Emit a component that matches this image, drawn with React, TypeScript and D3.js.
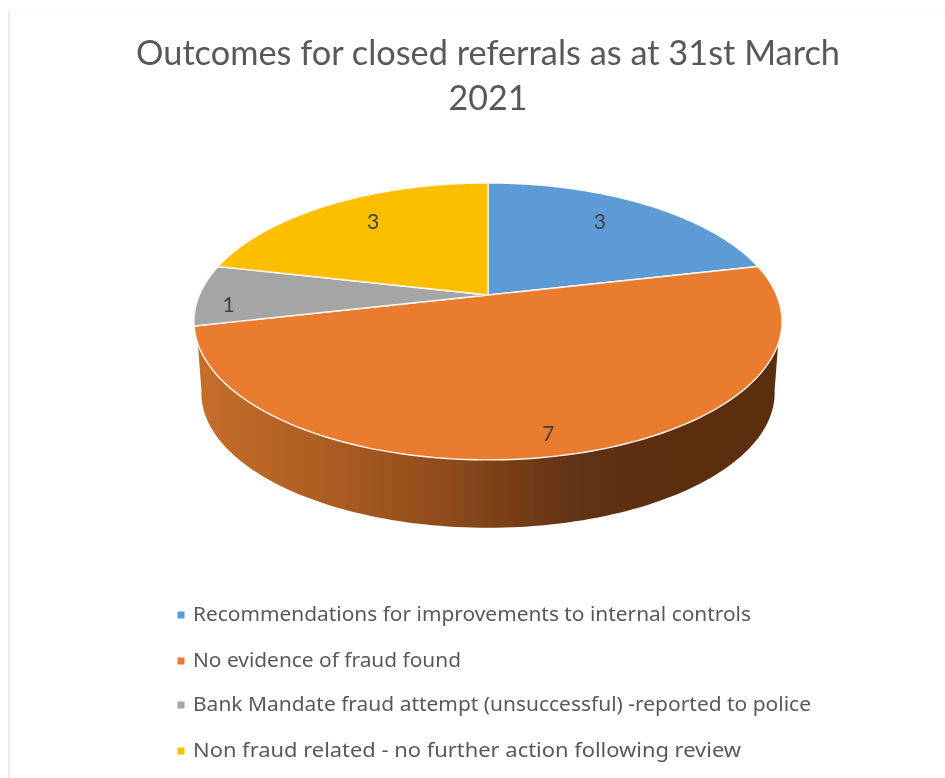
import React from "react";
import * as d3 from "d3";

const titleLines = ["Outcomes for closed referrals as at 31st March", "2021"];
const categories = [
  "Recommendations for improvements to internal controls",
  "No evidence of fraud found",
  "Bank Mandate fraud attempt (unsuccessful) -reported to police",
  "Non fraud related - no further action following review",
];
const values = [3, 7, 1, 3];
const colors = ["#5b9bd5", "#e97b2e", "#a5a5a5", "#fcbf00"];

const WIDTH = 945;
const HEIGHT = 778;
const cx = 488;
const cy = 295;
const rxBase = 288.6;
const ryBase = 133.4;
const persp = -0.191;
const wallDrop = 72;
const wallScale = 0.975;

// label placement per slice (matches where the source put them)
const labelRadius = [0.757, 0.886, 0.89, 0.763];
const labelNudgeDeg = [-3.6, 1.5, -4.4, 2.9];
const legendWidths = [558, 268, 618, 548];
const legendY = [615, 661, 705, 751];

const project = (angle: number, r = 1, scale = 1, drop = 0): [number, number] => {
  const X = Math.sin(angle) * r;
  const Y = -Math.cos(angle) * r;
  const d = 1 + persp * Y;
  return [cx + (X * rxBase * scale) / d, cy + drop + (Y * ryBase * scale) / d];
};

const line = d3.line<[number, number]>().x((d) => d[0]).y((d) => d[1]);
const rad = (deg: number) => (deg * Math.PI) / 180;

const sample = (a0: number, a1: number, n = 120, scale = 1, drop = 0) =>
  d3.range(n + 1).map((i) => project(a0 + ((a1 - a0) * i) / n, 1, scale, drop));

export default function App() {
  const arcs = d3.pie<number>().sort(null)(values);
  const wallPts = [
    ...sample(rad(110), rad(250)),
    ...sample(rad(260), rad(100), 120, wallScale, wallDrop),
  ];
  return (
    <svg
      width={WIDTH}
      height={HEIGHT}
      viewBox={`0 0 ${WIDTH} ${HEIGHT}`}
      style={{ position: "absolute", left: 0, top: 0, background: "#fff" }}
    >
      <defs>
        <linearGradient id="wall" gradientUnits="userSpaceOnUse" x1={194} x2={782} y1={0} y2={0}>
          <stop offset="0" stopColor="#c66f2b" />
          <stop offset="0.18" stopColor="#b26024" />
          <stop offset="0.39" stopColor="#954f1e" />
          <stop offset="0.5" stopColor="#7e4319" />
          <stop offset="0.66" stopColor="#5f3012" />
          <stop offset="1" stopColor="#5a2d10" />
        </linearGradient>
        <filter id="soft" filterUnits="userSpaceOnUse" x={0} y={0} width={WIDTH} height={HEIGHT}>
          <feGaussianBlur stdDeviation="0.7" />
        </filter>
      </defs>
      <g filter="url(#soft)">
        <line x1={9} y1={11} x2={9} y2={HEIGHT} stroke="#e6e6e6" strokeWidth={1.5} />
        <line x1={9} y1={11} x2={WIDTH} y2={11} stroke="#f6f6f6" strokeWidth={1} />
        <g fontFamily="Lato, 'Open Sans', sans-serif" fontSize={34} fill="#595959" textAnchor="middle">
          {titleLines.map((t, i) => (
            <text
              key={t}
              x={488}
              y={65 + i * 45}
              textLength={i === 0 ? 704 : undefined}
              lengthAdjust="spacingAndGlyphs"
            >
              {t}
            </text>
          ))}
        </g>
        <path d={line(wallPts) + "Z"} fill="url(#wall)" />
        {arcs.map((a, i) => {
          const rim = sample(a.startAngle, a.endAngle);
          const apex = project(0, 0);
          return (
            <path
              key={categories[i]}
              d={line([apex, ...rim]) + "Z"}
              fill={colors[i]}
              stroke="#fdf6ef"
              strokeWidth={1.4}
              strokeLinejoin="round"
            />
          );
        })}
        {arcs.map((a, i) => {
          const mid = (a.startAngle + a.endAngle) / 2 + rad(labelNudgeDeg[i]);
          const [x, y] = project(mid, labelRadius[i]);
          return (
            <text
              key={i}
              x={x}
              y={y}
              dy="0.36em"
              textAnchor="middle"
              fontFamily="Lato, sans-serif"
              fontSize={21}
              fill="#404040"
            >
              {values[i]}
            </text>
          );
        })}
        {categories.map((c, i) => (
          <g key={c}>
            <rect x={177.5} y={legendY[i] - 3.5} width={7} height={7} fill={colors[i]} />
            <text
              x={193}
              y={legendY[i] + 6}
              fontFamily="'Noto Sans', 'Open Sans', sans-serif"
              fontSize={20.5}
              fill="#595959"
              textLength={legendWidths[i]}
              lengthAdjust="spacingAndGlyphs"
            >
              {c}
            </text>
          </g>
        ))}
      </g>
    </svg>
  );
}
